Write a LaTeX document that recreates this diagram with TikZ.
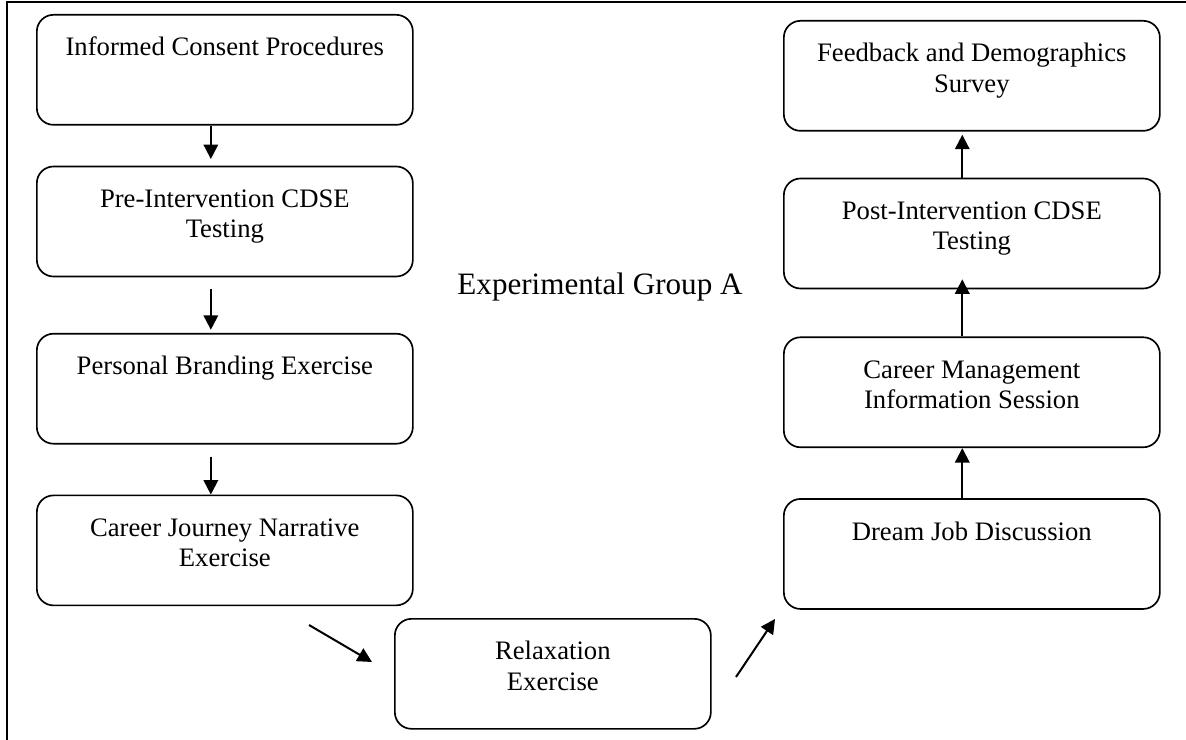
\documentclass[tikz,border=0pt]{standalone}
\usepackage{fontspec}
\setmainfont{Liberation Serif}
\usepackage{tikz}
\usetikzlibrary{arrows.meta,positioning}

\newcommand{\stagetext}[2][169.2pt]{\parbox[c][49.5pt][t]{#1}{\centering\rule{0pt}{18.5pt}#2}}

\begin{document}
\begin{tikzpicture}[x=0.45pt,y=-0.45pt,
  font=\fontsize{12}{13.6}\selectfont,
  stage/.style={draw,rounded corners=7.5pt,line width=0.75pt,inner sep=0pt,anchor=north west},
  flow/.style={-{Triangle[length=6.5pt,width=6.5pt]},line width=0.9pt}]
  \useasboundingbox (0,0) rectangle (1186,740);
  % frame
  \draw[line width=0.9pt] (7,741) -- (7,2) -- (1187,2);
  % left column
  \node[stage] (consent) at (36,14) {\stagetext{Informed Consent Procedures}};
  \node[stage,below=18pt of consent] (pretest) {\stagetext{Pre-Intervention CDSE\\Testing}};
  \node[stage,below=25pt of pretest] (branding) {\stagetext{Personal Branding Exercise}};
  \node[stage,below=22.5pt of branding] (journey) {\stagetext{Career Journey Narrative\\Exercise}};
  % bottom
  \node[stage] (relax) at (394,618) {\stagetext[142.2pt]{Relaxation\\Exercise}};
  % right column
  \node[stage] (survey) at (783,20) {\stagetext{Feedback and Demographics\\Survey}};
  \node[stage,below=20.7pt of survey] (posttest) {\stagetext{Post-Intervention CDSE\\Testing}};
  \node[stage,below=21.2pt of posttest] (infosess) {\stagetext{Career Management\\Information Session}};
  \node[stage,below=22.5pt of infosess] (dreamjob) {\stagetext{Dream Job Discussion}};
  \node[font=\fontsize{14}{16}\selectfont,anchor=base] (group) at (600,295) {Experimental Group A};
  % arrows
  \draw[flow,shorten >=3pt] ([xshift=-6.3pt]consent.south) -- ([xshift=-6.3pt]pretest.north);
  \draw[flow,shorten <=5.4pt,shorten >=1.4pt] ([xshift=-6.3pt]pretest.south) -- ([xshift=-6.3pt]branding.north);
  \draw[flow,shorten <=5.4pt] ([xshift=-6.3pt]branding.south) -- ([xshift=-6.3pt]journey.north);
  \coordinate (down1) at (309,625);
  \coordinate (down2) at (372,662);
  \draw[flow] (down1) -- (down2);
  \coordinate (up1) at (736,677);
  \coordinate (up2) at (775,619);
  \draw[flow] (up1) -- (up2);
  \draw[flow] ([xshift=-4.3pt]dreamjob.north) -- ([xshift=-4.3pt]infosess.south);
  \draw[flow,shorten >=-4.5pt] ([xshift=-4.3pt]infosess.north) -- ([xshift=-4.3pt]posttest.south);
  \draw[flow,shorten >=1.4pt] ([xshift=-4.3pt]posttest.north) -- ([xshift=-4.3pt]survey.south);
\end{tikzpicture}
\end{document}
